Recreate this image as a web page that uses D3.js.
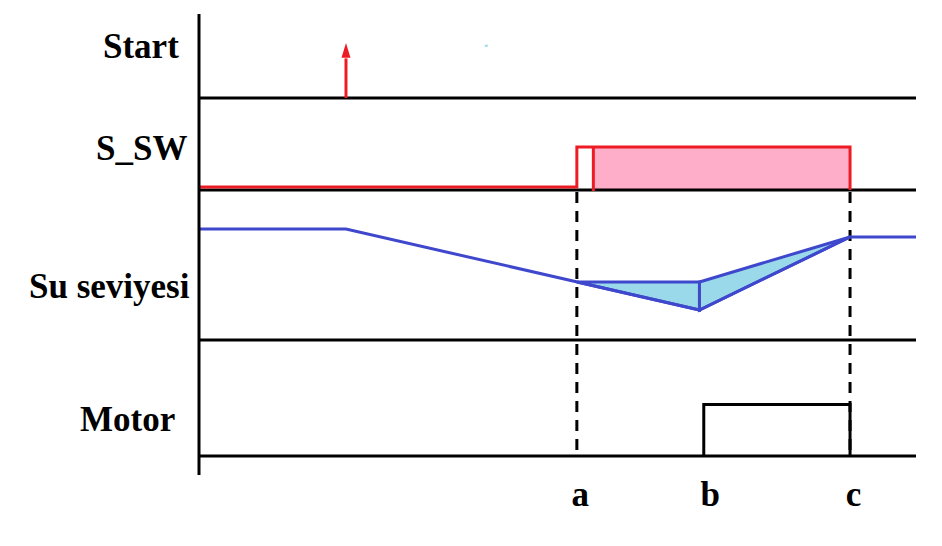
<!DOCTYPE html>
<html>
<head>
<meta charset="utf-8">
<script src="https://cdn.jsdelivr.net/npm/d3@7"></script>
<style>
  html, body { margin: 0; padding: 0; background: #ffffff; }
  svg { display: block; }
</style>
</head>
<body>
<svg id="chart" width="942" height="546"></svg>
<script>
// ---------------- DATA ----------------
const laneNames = ["Start", "S_SW", "Su seviyesi", "Motor"];
const tickLabels = ["a", "b", "c"];
const tickValues = [52.7, 70.8, 90.8];          // time positions of labels a, b, c
const timeDomain = [0, 100];

const startPulseTime = 20.5;                    // Start pulse (arrow)
const dotTime = 40.0, dotLevel = 0.95;          // small stray dot in Start lane

// S_SW: [time, level]
const sswTimes  = [0, 52.7, 52.7, 90.8, 90.8];
const sswLevels = [0, 0, 1, 1, -0.08];
const sswInnerTime = 55.0;                      // start of filled (active) region
const sswFillEnd = 90.8;

// Water level (Su seviyesi): [time, level]
const waterTimes  = [0, 20.5, 69.8, 90.8, 100];
const waterLevels = [74, 74, 20, 68.7, 68.7];
// pumped-in shaded triangles
const fillA = [[52.7, 38.7], [69.8, 38.7], [69.8, 20]];
const fillB = [[69.8, 38.7], [90.8, 68.7], [69.8, 20]];

// Motor: [time, level]
const motorTimes  = [70.4, 70.4, 90.8, 90.8];
const motorLevels = [0, 1, 1, 0];

// dashed markers
const dashTimes = [52.7, 90.8];

// ---------------- LAYOUT ----------------
const svg = d3.select("#chart");
const x = d3.scaleLinear().domain(timeDomain).range([199, 916]);

// lane boundaries (y of baselines)
const laneBase = [98, 190, 340, 456];
const axisTop = 14, axisBottom = 475;

const yStart = d3.scaleLinear().domain([0, 1]).range([98, 43]);
const ySsw   = d3.scaleLinear().domain([0, 1]).range([187, 147]);
const yWater = d3.scaleLinear().domain([0, 100]).range([340, 190]);
const yMotor = d3.scaleLinear().domain([0, 1]).range([456, 404.5]);

const RED = "#ed1c24", PINK = "#ffaec9", BLUE = "#3f48cc", LBLUE = "#99d9ea";
const FONT = "'Liberation Serif', 'Times New Roman', serif";

// S_SW filled region
svg.append("rect")
  .attr("x", x(sswInnerTime)).attr("y", ySsw(1))
  .attr("width", x(sswFillEnd) - x(sswInnerTime))
  .attr("height", laneBase[1] - ySsw(1))
  .attr("fill", PINK);

// dashed lines
svg.selectAll("line.dash").data(dashTimes).enter().append("line")
  .attr("class", "dash")
  .attr("x1", d => x(d)).attr("x2", d => x(d))
  .attr("y1", laneBase[1]).attr("y2", laneBase[3])
  .attr("stroke", "#000").attr("stroke-width", 3)
  .attr("stroke-dasharray", "11,8").attr("stroke-dashoffset", -2);

// water shaded triangles
[fillA, fillB].forEach(poly => {
  svg.append("polygon")
    .attr("points", poly.map(p => [x(p[0]), yWater(p[1])].join(",")).join(" "))
    .attr("fill", LBLUE).attr("stroke", BLUE).attr("stroke-width", 3)
    .attr("stroke-linejoin", "miter");
});

// water level line
const waterLine = d3.line().x(d => x(d[0])).y(d => yWater(d[1]));
svg.append("path")
  .datum(waterTimes.map((t, i) => [t, waterLevels[i]]))
  .attr("d", waterLine).attr("fill", "none")
  .attr("stroke", BLUE).attr("stroke-width", 3);

// lane horizontal lines
svg.selectAll("line.lane").data(laneBase).enter().append("line")
  .attr("class", "lane")
  .attr("x1", x(timeDomain[0])).attr("x2", x(timeDomain[1]))
  .attr("y1", d => d).attr("y2", d => d)
  .attr("stroke", "#000").attr("stroke-width", 3);

// S_SW signal
const sswLine = d3.line().x(d => x(d[0])).y(d => d[1] < 0 ? laneBase[1] : ySsw(d[1]));
svg.append("path")
  .datum(sswTimes.map((t, i) => [t, sswLevels[i]]))
  .attr("d", sswLine).attr("fill", "none")
  .attr("stroke", RED).attr("stroke-width", 3);
svg.append("line")
  .attr("x1", x(sswInnerTime)).attr("x2", x(sswInnerTime))
  .attr("y1", ySsw(1)).attr("y2", laneBase[1] + 1)
  .attr("stroke", RED).attr("stroke-width", 3);

// Motor signal
const motorLine = d3.line().x(d => x(d[0])).y(d => yMotor(d[1]));
svg.append("path")
  .datum(motorTimes.map((t, i) => [t, motorLevels[i]]))
  .attr("d", motorLine).attr("fill", "none")
  .attr("stroke", "#000").attr("stroke-width", 3);

// Start arrow
const ax = x(startPulseTime);
svg.append("line")
  .attr("x1", ax).attr("x2", ax)
  .attr("y1", yStart(0)).attr("y2", yStart(0.72))
  .attr("stroke", RED).attr("stroke-width", 3);
svg.append("path")
  .attr("d", `M${ax},${yStart(1)} L${ax + 4.5},${yStart(0.73)} L${ax - 4.5},${yStart(0.73)} Z`)
  .attr("fill", RED);

// stray dot
svg.append("rect")
  .attr("x", x(dotTime) - 1).attr("y", yStart(dotLevel) - 1)
  .attr("width", 3).attr("height", 2).attr("fill", LBLUE);

// vertical axis
svg.append("line")
  .attr("x1", x(timeDomain[0])).attr("x2", x(timeDomain[0]))
  .attr("y1", axisTop).attr("y2", axisBottom)
  .attr("stroke", "#000").attr("stroke-width", 3);

// lane labels
const labelX = [103, 96, 29, 80];
const labelY = [58, 160, 298, 431];
svg.selectAll("text.lane").data(laneNames).enter().append("text")
  .attr("class", "lane")
  .attr("x", (d, i) => labelX[i]).attr("y", (d, i) => labelY[i])
  .attr("font-family", FONT)
  .attr("font-weight", "bold").attr("font-size", 35)
  .attr("fill", "#000")
  .text(d => d);

// time labels via axis
const axis = d3.axisBottom(x).tickValues(tickValues)
  .tickFormat((d, i) => tickLabels[i]).tickSize(0).tickPadding(0);
const g = svg.append("g").attr("transform", `translate(3,${506})`).call(axis);
g.select(".domain").remove();
g.selectAll("text")
  .attr("dy", 0).attr("y", 0)
  .attr("font-family", FONT)
  .attr("font-weight", "bold").attr("font-size", 35)
  .attr("fill", "#000");
</script>
</body>
</html>
